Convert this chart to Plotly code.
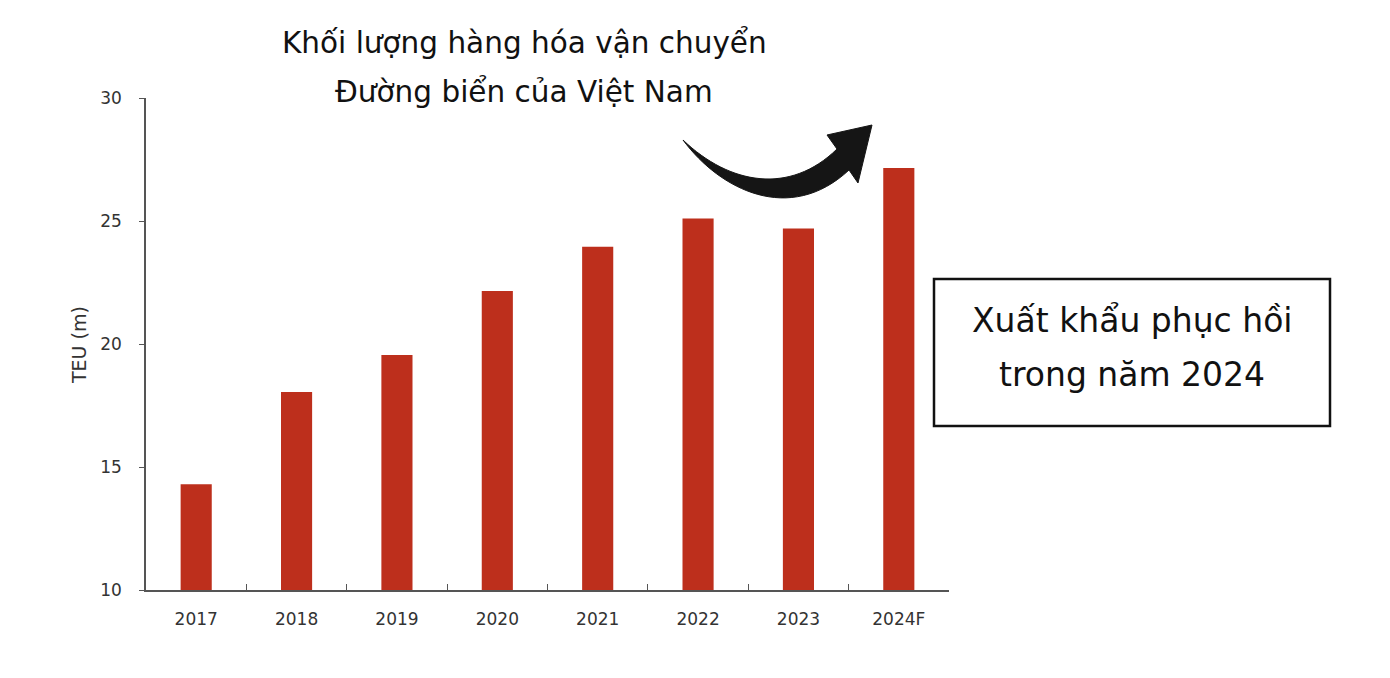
import plotly.graph_objects as go

# số liệu (triệu TEU)
years = ["2017", "2018", "2019", "2020", "2021", "2022", "2023", "2024F"]
teu = [14.3, 18.05, 19.55, 22.15, 23.95, 25.1, 24.7, 27.15]
y_ticks = [10, 15, 20, 25, 30]

title_lines = ["Khối lượng hàng hóa vận chuyển", "Đường biển của Việt Nam"]
box_lines = ["Xuất khẩu phục hồi", "trong năm 2024"]
y_title = "TEU (m)"

W, H = 1390, 678
OFF = 8  # lề mặc định của trang html
L, R, T, B = 146 - OFF, 949 - OFF, 98 - OFF, 590 - OFF  # vùng vẽ (pixel)
FONT = "DejaVu Sans, Arial, sans-serif"
BAR_COLOR = "#BD2F1C"


def px(x):
    return (x - OFF - L) / (R - L)


def py(y):
    return (B - (y - OFF)) / (B - T)


fig = go.Figure()
fig.add_trace(go.Bar(x=years, y=teu, marker=dict(color=BAR_COLOR, line_width=0)))

fig.update_layout(
    width=W, height=H,
    margin=dict(l=L, r=W - R, t=T, b=H - B, pad=0),
    paper_bgcolor="white", plot_bgcolor="white",
    showlegend=False,
    bargap=0.69,
    font=dict(family=FONT, color="#333333", size=17),
)
fig.update_xaxes(
    type="category", showline=True, linecolor="#555555", linewidth=1.5,
    ticks="inside", tickson="boundaries", ticklen=6, tickcolor="#555555",
    showgrid=False, ticklabelstandoff=13, tickfont=dict(size=17, color="#333333"),
)
fig.update_yaxes(
    range=[10, 30], tickvals=y_ticks, showline=True, linecolor="#555555", linewidth=1.5,
    ticks="outside", ticklen=5, tickcolor="#555555", showgrid=False, zeroline=False,
    ticklabelstandoff=14, tickfont=dict(size=17, color="#333333"),
)

# tiêu đề trục y
fig.add_annotation(
    text=y_title, xref="paper", yref="paper", x=px(66), y=py(345),
    textangle=-90, showarrow=False, font=dict(size=19, color="#333333"),
)

# tiêu đề hai dòng
for line, yy in zip(title_lines, [43, 91]):
    fig.add_annotation(
        text=line, xref="paper", yref="paper", x=px(524), y=py(yy),
        xanchor="center", yanchor="middle", showarrow=False,
        font=dict(size=29.5, color="#111111"),
    )

# khung chú thích bên phải
fig.add_shape(
    type="rect", xref="paper", yref="paper",
    x0=px(934), x1=px(1330), y0=py(426), y1=py(279),
    line=dict(color="#111111", width=2.5), fillcolor="white",
)
for line, yy in zip(box_lines, [320, 374]):
    fig.add_annotation(
        text=line, xref="paper", yref="paper", x=px(1132), y=py(yy),
        xanchor="center", yanchor="middle", showarrow=False,
        font=dict(size=33, color="#111111"),
    )

# mũi tên cong màu đen
arrow_pts = [
    ("M", [(683, 140)]),
    ("C", [(720, 190), (790, 225), (849, 170)]),
    ("L", [(858, 183)]),
    ("L", [(872, 125)]),
    ("L", [(827, 135)]),
    ("L", [(837, 149)]),
    ("C", [(790, 195), (730, 185), (683, 140)]),
]
path = " ".join(
    cmd + " " + " ".join(f"{px(x):.5f},{py(y):.5f}" for x, y in pts)
    for cmd, pts in arrow_pts
) + " Z"
fig.add_shape(
    type="path", xref="paper", yref="paper", path=path,
    fillcolor="#151515", line=dict(color="#151515", width=1),
)

fig.write_html("out.html")
